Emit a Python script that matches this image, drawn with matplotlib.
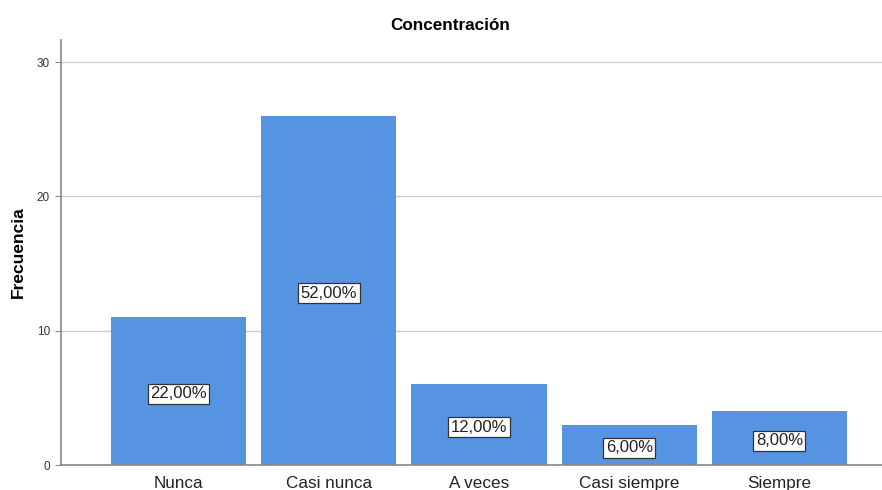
import matplotlib
matplotlib.use("Agg")
import matplotlib.pyplot as plt

categories = ["Nunca", "Casi nunca", "A veces", "Casi siempre", "Siempre"]
frequencies = [11, 26, 6, 3, 4]
percent_labels = ["22,00%", "52,00%", "12,00%", "6,00%", "8,00%"]
y_ticks = [0, 10, 20, 30]

plt.rcParams["font.family"] = ["Liberation Sans", "DejaVu Sans"]

fig = plt.figure(figsize=(8.82, 4.9), dpi=100)
ax = fig.add_axes([0.0692, 0.051, 0.9308, 0.867])

x = list(range(len(categories)))
bars = ax.bar(x, frequencies, width=0.9, color="#5694e1", zorder=2)

for rect, lab, val in zip(bars, percent_labels, frequencies):
    ax.text(rect.get_x() + rect.get_width() / 2, val / 2 - 0.2, lab,
            ha="center", va="center", fontsize=12, color="#222222",
            bbox=dict(boxstyle="square,pad=0.15", facecolor="white",
                      edgecolor="#333333", linewidth=0.9), zorder=3)

ax.set_xlim(-0.783, 4.683)
ax.set_ylim(0, 31.64)
ax.set_yticks(y_ticks)
ax.set_yticklabels([str(t) for t in y_ticks], fontsize=8.5, color="#333333")
ax.set_xticks(x)
ax.set_xticklabels(categories, fontsize=12.3, color="#222222")
ax.tick_params(axis="x", length=0, pad=8)
ax.tick_params(axis="y", length=4, color="#888888", pad=4)

ax.yaxis.grid(True, color="#cccccc", linewidth=1, zorder=0)
ax.set_axisbelow(True)

for side in ("top", "right"):
    ax.spines[side].set_visible(False)
for side in ("left", "bottom"):
    ax.spines[side].set_color("#888888")
    ax.spines[side].set_linewidth(1.2)

ax.set_ylabel("Frecuencia", fontsize=12.5, fontweight="bold", va="center")
ax.yaxis.set_label_coords(-0.052, 0.5)
fig.text(0.51, 0.947, "Concentración", ha="center", va="center",
         fontsize=12.3, fontweight="bold")

fig.savefig("out.png", dpi=100)
